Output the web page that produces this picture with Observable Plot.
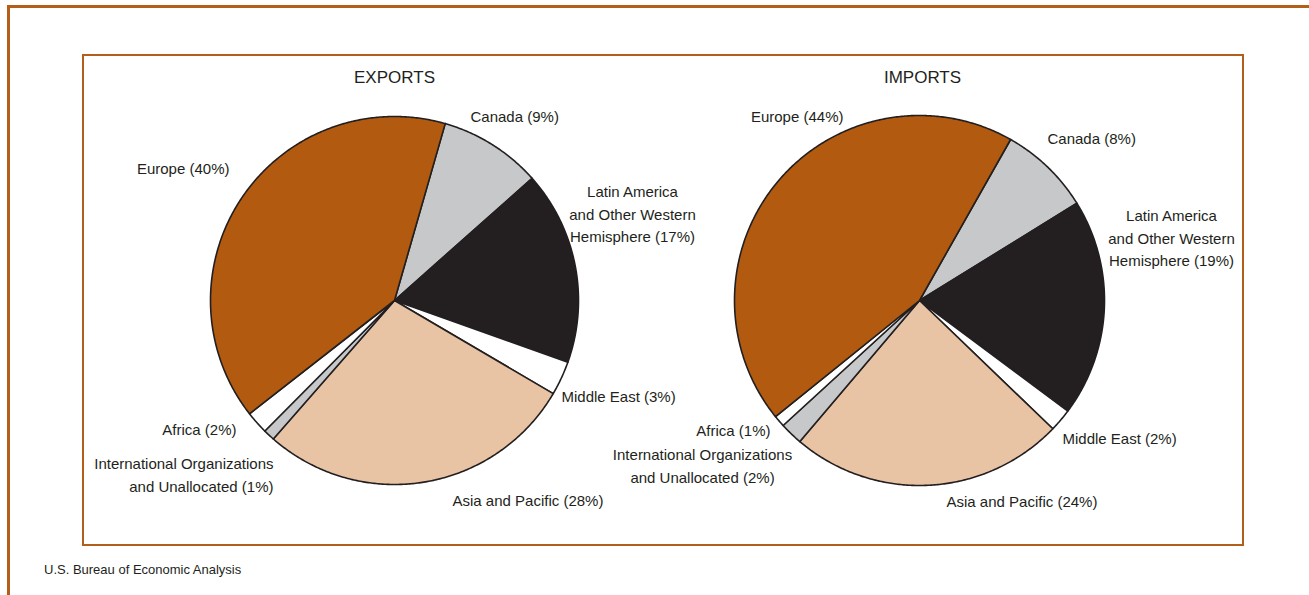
<!DOCTYPE html>
<html>
<head>
<meta charset="utf-8">
<script src="https://cdn.jsdelivr.net/npm/d3@7"></script>
<script src="https://cdn.jsdelivr.net/npm/@observablehq/plot@0.6"></script>
<style>
  html, body { margin: 0; padding: 0; background: #fff; }
  #page { position: relative; width: 1309px; height: 595px; overflow: hidden; font-family: "Liberation Sans", Arial, sans-serif; color: #231f20; }
  #chart { position: absolute; left: 0; top: 0; }
  .outer { position: absolute; left: 7px; top: 5px; width: 1400px; height: 700px; border-top: 3px solid #b35f19; border-left: 3px solid #b35f19; pointer-events: none; }
  .inner { position: absolute; left: 82px; top: 54px; width: 1158px; height: 488px; border: 2px solid #b35f19; pointer-events: none; }
  .source { position: absolute; left: 44px; top: 562px; font-size: 13px; }
</style>
</head>
<body>
<div id="page">
  <div id="chart"></div>
  <div class="outer"></div>
  <div class="inner"></div>
  <div class="source">U.S. Bureau of Economic Analysis</div>
</div>
<script>
// ---- Data ----
const regions = ["Canada", "Latin America and Other Western Hemisphere", "Middle East", "Asia and Pacific", "International Organizations and Unallocated", "Africa", "Europe"];
const labelNames = ["Canada", "Latin America\nand Other Western\nHemisphere", "Middle East", "Asia and Pacific", "International Organizations\nand Unallocated", "Africa", "Europe"];
const exportsShare = [9, 17, 3, 28, 1, 2, 40];
const importsShare = [8, 19, 2, 24, 2, 1, 44];
const panelTitles = ["EXPORTS", "IMPORTS"];
const sliceColors = ["#c7c8ca", "#231f20", "#ffffff", "#e8c3a4", "#c7c8ca", "#ffffff", "#b15a10"];

// ---- Layout (page pixel units) ----
const W = 1309, H = 595;
const pies = [
  {title: panelTitles[0], values: exportsShare, cx: 394, cy: 300, r: 184, start: 16, titleX: 394,
   labels: [
     {x: 470, y: 114, anchor: "start"},
     {x: 632, y: 212, anchor: "middle"},
     {x: 561, y: 394, anchor: "start"},
     {x: 452, y: 498, anchor: "start"},
     {x: 273, y: 473, anchor: "end"},
     {x: 236, y: 427, anchor: "end"},
     {x: 229, y: 166, anchor: "end"}
   ]},
  {title: panelTitles[1], values: importsShare, cx: 919, cy: 300, r: 185, start: 29.5, titleX: 922,
   labels: [
     {x: 1047, y: 136, anchor: "start"},
     {x: 1171, y: 236, anchor: "middle"},
     {x: 1062, y: 436, anchor: "start"},
     {x: 946, y: 499, anchor: "start"},
     {x: 702, y: 464, anchor: "middle"},
     {x: 770, y: 428, anchor: "end"},
     {x: 843, y: 114, anchor: "end"}
   ]}
];

// ---- Build slice outlines and labels ----
const slicePts = [];
const labelRows = [];
const titleRows = [];
for (const p of pies) {
  const total = d3.sum(p.values);
  let a = p.start;
  p.values.forEach((v, i) => {
    const sweep = v / total * 360;
    const key = p.title + "-" + i;
    const n = Math.max(4, Math.ceil(sweep * 2));
    slicePts.push({key, region: regions[i], x: p.cx, y: p.cy});
    for (let t = 0; t <= n; t++) {
      const ang = (a + sweep * t / n) * Math.PI / 180;
      slicePts.push({key, region: regions[i], x: p.cx + p.r * Math.sin(ang), y: p.cy - p.r * Math.cos(ang)});
    }
    slicePts.push({key, region: regions[i], x: p.cx, y: p.cy});
    a += sweep;
    const L = p.labels[i];
    labelRows.push({x: L.x, y: L.y, anchor: L.anchor, text: `${labelNames[i]} (${v}%)`});
  });
  titleRows.push({x: p.titleX, y: 77, text: p.title});
}

const textOpts = {x: "x", y: "y", text: "text", fill: "#231f20", fontSize: 15, lineHeight: 1.5, fontFamily: "Liberation Sans, Arial, sans-serif"};

const chart = Plot.plot({
  width: W,
  height: H,
  margin: 0,
  style: {background: "transparent", fontFamily: "Liberation Sans, Arial, sans-serif"},
  x: {domain: [0, W], range: [0, W], axis: null},
  y: {domain: [0, H], range: [0, H], axis: null},
  color: {domain: regions, range: sliceColors},
  marks: [
    Plot.line(slicePts, {x: "x", y: "y", z: "key", fill: "region", stroke: "#231f20", strokeWidth: 1.6, strokeLinejoin: "round", curve: "linear"}),
    Plot.text(labelRows.filter(d => d.anchor === "start"), {...textOpts, textAnchor: "start"}),
    Plot.text(labelRows.filter(d => d.anchor === "middle"), {...textOpts, textAnchor: "middle"}),
    Plot.text(labelRows.filter(d => d.anchor === "end"), {...textOpts, textAnchor: "end"}),
    Plot.text(titleRows, {x: "x", y: "y", text: "text", fill: "#231f20", fontSize: 17, textAnchor: "middle", fontFamily: "Liberation Sans, Arial, sans-serif"})
  ]
});
document.getElementById("chart").appendChild(chart);
</script>
</body>
</html>
